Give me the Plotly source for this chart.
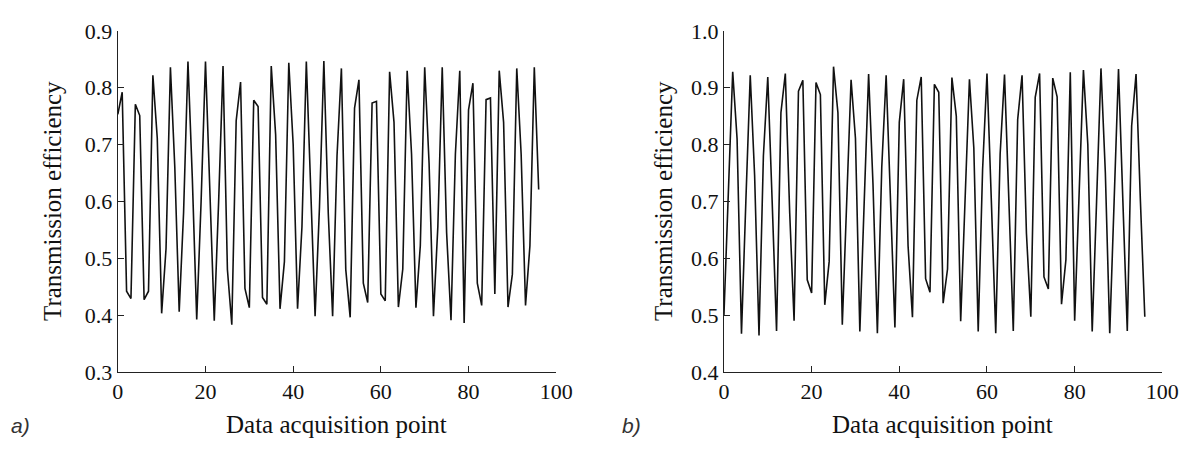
import plotly.graph_objects as go

# ---- data ----
points = list(range(97))

eff_a = [0.753, 0.792, 0.442, 0.429, 0.771, 0.751, 0.427, 0.442, 0.822, 0.711,
         0.403, 0.517, 0.836, 0.660, 0.406, 0.580, 0.846, 0.640, 0.392, 0.600,
         0.846, 0.620, 0.390, 0.600, 0.838, 0.480, 0.383, 0.742, 0.810, 0.447,
         0.413, 0.778, 0.767, 0.431, 0.419, 0.838, 0.717, 0.411, 0.494, 0.844,
         0.700, 0.411, 0.555, 0.846, 0.620, 0.398, 0.590, 0.847, 0.580, 0.398,
         0.680, 0.834, 0.480, 0.396, 0.764, 0.814, 0.456, 0.422, 0.773, 0.776,
         0.437, 0.425, 0.828, 0.739, 0.414, 0.481, 0.830, 0.683, 0.413, 0.522,
         0.836, 0.667, 0.398, 0.556, 0.836, 0.545, 0.391, 0.683, 0.830, 0.386,
         0.761, 0.808, 0.456, 0.417, 0.779, 0.782, 0.437, 0.830, 0.739, 0.414,
         0.472, 0.834, 0.683, 0.417, 0.522, 0.836, 0.621]

eff_b = [0.500, 0.720, 0.928, 0.810, 0.467, 0.700, 0.922, 0.745, 0.464, 0.780,
         0.919, 0.700, 0.472, 0.856, 0.925, 0.680, 0.490, 0.894, 0.913, 0.562,
         0.539, 0.909, 0.888, 0.518, 0.594, 0.937, 0.856, 0.483, 0.700, 0.914,
         0.811, 0.471, 0.700, 0.924, 0.730, 0.468, 0.760, 0.922, 0.700, 0.478,
         0.839, 0.915, 0.622, 0.496, 0.878, 0.919, 0.564, 0.540, 0.906, 0.892,
         0.521, 0.581, 0.918, 0.850, 0.489, 0.700, 0.915, 0.794, 0.471, 0.756,
         0.925, 0.700, 0.468, 0.783, 0.923, 0.700, 0.472, 0.844, 0.922, 0.644,
         0.497, 0.883, 0.925, 0.567, 0.546, 0.917, 0.884, 0.519, 0.597, 0.927,
         0.490, 0.710, 0.931, 0.800, 0.471, 0.700, 0.934, 0.750, 0.468, 0.700,
         0.933, 0.700, 0.472, 0.833, 0.924, 0.700, 0.497]

x_ticks = [0, 20, 40, 60, 80, 100]
y_ticks_a = [0.3, 0.4, 0.5, 0.6, 0.7, 0.8, 0.9]
y_ticks_b = [0.4, 0.5, 0.6, 0.7, 0.8, 0.9, 1.0]

x_title = "Data acquisition point"
y_title = "Transmission efficiency"
panel_labels = ["a)", "b)"]

W, H = 1197, 451
SERIF = "Liberation Serif, Times New Roman, serif"

fig = go.Figure()
fig.add_trace(go.Scatter(x=points, y=eff_a, mode="lines",
                         line=dict(color="#111111", width=1.6),
                         xaxis="x", yaxis="y", showlegend=False))
fig.add_trace(go.Scatter(x=points, y=eff_b, mode="lines",
                         line=dict(color="#111111", width=1.6),
                         xaxis="x2", yaxis="y2", showlegend=False))

def px_x(p):
    return p / W

def px_y(p):
    return 1 - p / H

axis_common = dict(showline=True, linecolor="#222222", linewidth=1.3,
                   ticks="inside", ticklen=6, tickcolor="#222222", tickwidth=1.3,
                   showgrid=False, zeroline=False, mirror=False,
                   tickfont=dict(family=SERIF, size=22, color="#111111"))

ydom = [px_y(381), px_y(20)]
fig.update_layout(
    width=W, height=H,
    margin=dict(l=0, r=0, t=0, b=0),
    paper_bgcolor="white", plot_bgcolor="white",
    xaxis=dict(domain=[px_x(114), px_x(561)], range=[0, 100], tickvals=x_ticks,
               anchor="y", **axis_common),
    yaxis=dict(domain=ydom, range=[0.3, 0.9], tickvals=y_ticks_a,
               tickformat=".1f", anchor="x", **axis_common),
    xaxis2=dict(domain=[px_x(732), px_x(1179)], range=[0, 100], tickvals=x_ticks,
                anchor="y2", **axis_common),
    yaxis2=dict(domain=ydom, range=[0.4, 1.0], tickvals=y_ticks_b,
                tickformat=".1f", anchor="x2", **axis_common),
)

title_font = dict(family=SERIF, size=25, color="#111111")
label_font = dict(family="Liberation Sans Narrow, Liberation Sans, sans-serif",
                  size=21, color="#333333")
for cx, yx in [(337, 48), (955, 671)]:
    fig.add_annotation(x=px_x(cx), y=px_y(437), xref="paper", yref="paper",
                       text=x_title, showarrow=False, font=title_font,
                       xanchor="center", yanchor="middle")
    fig.add_annotation(x=px_x(yx), y=px_y(200), xref="paper", yref="paper",
                       text=y_title, showarrow=False, font=title_font,
                       textangle=-90, xanchor="center", yanchor="middle")
for lab, lx in zip(panel_labels, [15, 638]):
    fig.add_annotation(x=px_x(lx), y=px_y(438), xref="paper", yref="paper",
                       text="<i>" + lab + "</i>", showarrow=False, font=label_font,
                       xanchor="center", yanchor="middle")

fig.write_html("out.html")
